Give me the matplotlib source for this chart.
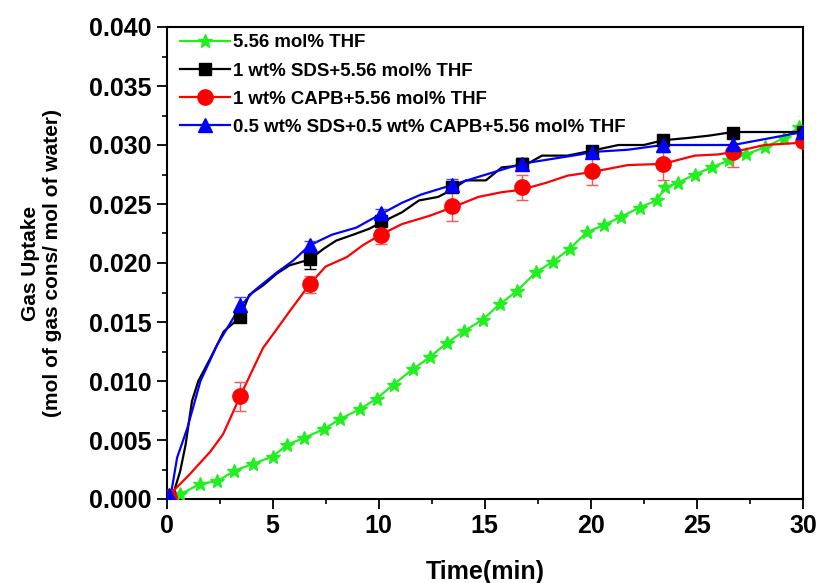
import matplotlib
matplotlib.use("Agg")
import matplotlib.pyplot as plt
from matplotlib.lines import Line2D
from matplotlib.ticker import MultipleLocator, FormatStrFormatter

plt.rcParams['font.family'] = ['Liberation Sans', 'DejaVu Sans']
plt.rcParams['font.weight'] = 'bold'

# ---------------- data ----------------
labels = ["5.56 mol% THF",
          "1 wt% SDS+5.56 mol% THF",
          "1 wt% CAPB+5.56 mol% THF",
          "0.5 wt% SDS+0.5 wt% CAPB+5.56 mol% THF"]

thf_t = [0.0, 0.65, 1.6, 2.4, 3.2, 4.1, 5.0, 5.7, 6.5, 7.4, 8.2, 9.1, 9.9, 10.7,
         11.6, 12.4, 13.2, 14.0, 14.9, 15.7, 16.5, 17.4, 18.2, 19.0, 19.8, 20.6,
         21.4, 22.3, 23.1, 23.5, 24.1, 24.9, 25.7, 26.5, 27.3, 28.2, 29.1, 29.8]
thf_v = [0.0000, 0.0004, 0.0013, 0.0015, 0.0024, 0.0030, 0.0036, 0.0046, 0.0052,
         0.0059, 0.0068, 0.0076, 0.0085, 0.0097, 0.0110, 0.0120, 0.0132, 0.0142,
         0.0152, 0.0165, 0.0176, 0.0192, 0.0201, 0.0212, 0.0226, 0.0232, 0.0239,
         0.0247, 0.0253, 0.0264, 0.0268, 0.0275, 0.0281, 0.0287, 0.0292, 0.0298,
         0.0306, 0.0315]

sds_t = [0.0, 0.3, 0.65, 0.9, 1.2, 1.5, 2.06, 2.7, 3.47, 3.9, 4.55, 5.2, 5.8, 6.75,
         7.4, 8.0, 8.8, 9.55, 10.2, 11.1, 11.9, 12.8, 13.45, 14.1, 15.05, 15.8,
         16.9, 17.7, 18.9, 20.0, 21.3, 22.5, 23.4, 24.6, 25.6, 26.7, 28.2, 30.0]
sds_v = [0.0000, 0.0003, 0.0024, 0.0046, 0.0083, 0.0100, 0.0119, 0.0142, 0.0154,
         0.0173, 0.0181, 0.0191, 0.0198, 0.0203, 0.0212, 0.0219, 0.0224, 0.0229,
         0.0235, 0.0243, 0.0253, 0.0256, 0.0262, 0.0270, 0.0270, 0.0281, 0.0283,
         0.0291, 0.0291, 0.0295, 0.0300, 0.0300, 0.0304, 0.0306, 0.0308, 0.0311,
         0.0311, 0.0311]

capb_t = [0.0, 0.33, 1.1, 1.45, 2.06, 2.67, 3.47, 3.94, 4.55, 5.2, 5.8, 6.75, 7.5,
          8.5, 9.25, 10.1, 11.1, 12.4, 13.45, 14.7, 15.8, 16.7, 17.9, 18.9, 20.0,
          21.75, 23.4, 24.9, 26.0, 26.7, 28.2, 30.0]
capb_v = [0.0000, 0.0007, 0.0021, 0.0028, 0.0040, 0.0055, 0.0087, 0.0105, 0.0128,
          0.0144, 0.0159, 0.0182, 0.0197, 0.0205, 0.0215, 0.0224, 0.0233, 0.0240,
          0.0247, 0.0256, 0.0260, 0.0262, 0.0268, 0.0274, 0.0277, 0.0283, 0.0284,
          0.0291, 0.0292, 0.0294, 0.0300, 0.0302]

mix_t = [0.0, 0.2, 0.5, 0.98, 1.6, 2.4, 3.47, 4.1, 5.2, 5.97, 6.75, 7.8, 8.95, 9.95,
         11.1, 12.0, 13.45, 14.7, 15.8, 16.7, 18.1, 19.5, 20.0, 21.75, 23.4, 24.9,
         26.0, 26.7, 28.2, 30.0]
mix_v = [0.0000, 0.0003, 0.0035, 0.0060, 0.0100, 0.0131, 0.0163, 0.0176, 0.0192,
         0.0202, 0.0215, 0.0224, 0.0230, 0.0240, 0.0251, 0.0258, 0.0266, 0.0273,
         0.0279, 0.0284, 0.0288, 0.0292, 0.0294, 0.0296, 0.0300, 0.0300, 0.0300,
         0.0300, 0.0305, 0.0311]

mark_t = [0.1, 3.47, 6.75, 10.1, 13.45, 16.75, 20.05, 23.4, 26.7, 30.0]
sds_m = [0.0002, 0.0154, 0.0203, 0.0236, 0.0264, 0.0284, 0.0295, 0.0304, 0.0310, 0.0311]
sds_e = [0.0003, 0.0004, 0.0008, 0.0004, 0.0004, 0.0005, 0.0004, 0.0004, 0.0004, 0.0003]
capb_m = [0.0002, 0.0087, 0.0182, 0.0224, 0.0248, 0.0264, 0.0278, 0.0284, 0.0294, 0.0303]
capb_e = [0.0003, 0.0012, 0.0007, 0.0008, 0.0012, 0.0011, 0.0012, 0.0014, 0.0013, 0.0005]
mix_m = [0.0003, 0.0164, 0.0215, 0.0242, 0.0266, 0.0284, 0.0294, 0.0300, 0.0301, 0.0311]
mix_e = [0.0002, 0.0007, 0.0004, 0.0004, 0.0005, 0.0005, 0.0004, 0.0006, 0.0007, 0.0003]

# ---------------- plot ----------------
fig = plt.figure(figsize=(8.17, 5.83), dpi=100)
ax = fig.add_axes([166.5 / 817, 1 - 499 / 583, 636.5 / 817, 472 / 583])

GREEN = '#22EE22'
lw = 1.6

ax.plot(thf_t, thf_v, color=GREEN, lw=lw, marker='*', markersize=10, zorder=3)

series = [
    (sds_t, sds_v, sds_m, sds_e, 'black', 's', 9, 'black'),
    (capb_t, capb_v, capb_m, capb_e, 'red', 'o', 11, '#FF5555'),
    (mix_t, mix_v, mix_m, mix_e, 'blue', '^', 10.5, '#4444FF'),
]
for t, v, m, e, c, mk, ms, ec in series:
    ax.plot(t, v, color=c, lw=lw, zorder=4)
    ax.errorbar(mark_t, m, yerr=e, fmt=mk, color=c, markersize=ms,
                ecolor=ec, elinewidth=1, capsize=4, capthick=1, zorder=5)

handles = [
    Line2D([], [], color=GREEN, lw=lw, marker='*', markersize=10),
    Line2D([], [], color='black', lw=lw, marker='s', markersize=9),
    Line2D([], [], color='red', lw=lw, marker='o', markersize=11),
    Line2D([], [], color='blue', lw=lw, marker='^', markersize=10.5),
]
ax.legend(handles, labels, loc='upper left', bbox_to_anchor=(0.0, 1.012),
          frameon=False, handlelength=2.7, handletextpad=0.15,
          labelspacing=0.6, borderaxespad=0.3, prop={'weight': 'bold', 'size': 13.4})

ax.set_xlim(0, 30)
ax.set_ylim(0, 0.040)
ax.xaxis.set_major_locator(MultipleLocator(5))
ax.xaxis.set_minor_locator(MultipleLocator(2.5))
ax.yaxis.set_major_locator(MultipleLocator(0.005))
ax.yaxis.set_minor_locator(MultipleLocator(0.0025))
ax.yaxis.set_major_formatter(FormatStrFormatter('%.3f'))

ax.tick_params(which='major', direction='out', length=7, width=1.3, pad=4,
               labelsize=18, top=False, right=False)
ax.tick_params(which='minor', direction='out', length=3.5, width=1.2,
               top=False, right=False)
for lab in ax.get_xticklabels() + ax.get_yticklabels():
    lab.set_fontweight('bold')
for s in ax.spines.values():
    s.set_linewidth(1.5)

ax.set_xlabel('Time(min)', fontsize=18, fontweight='bold', labelpad=16)
ax.set_ylabel('Gas Uptake\n(mol of gas cons/ mol of water)', fontsize=15,
              fontweight='bold', labelpad=19)

fig.savefig('out.png', dpi=100)
